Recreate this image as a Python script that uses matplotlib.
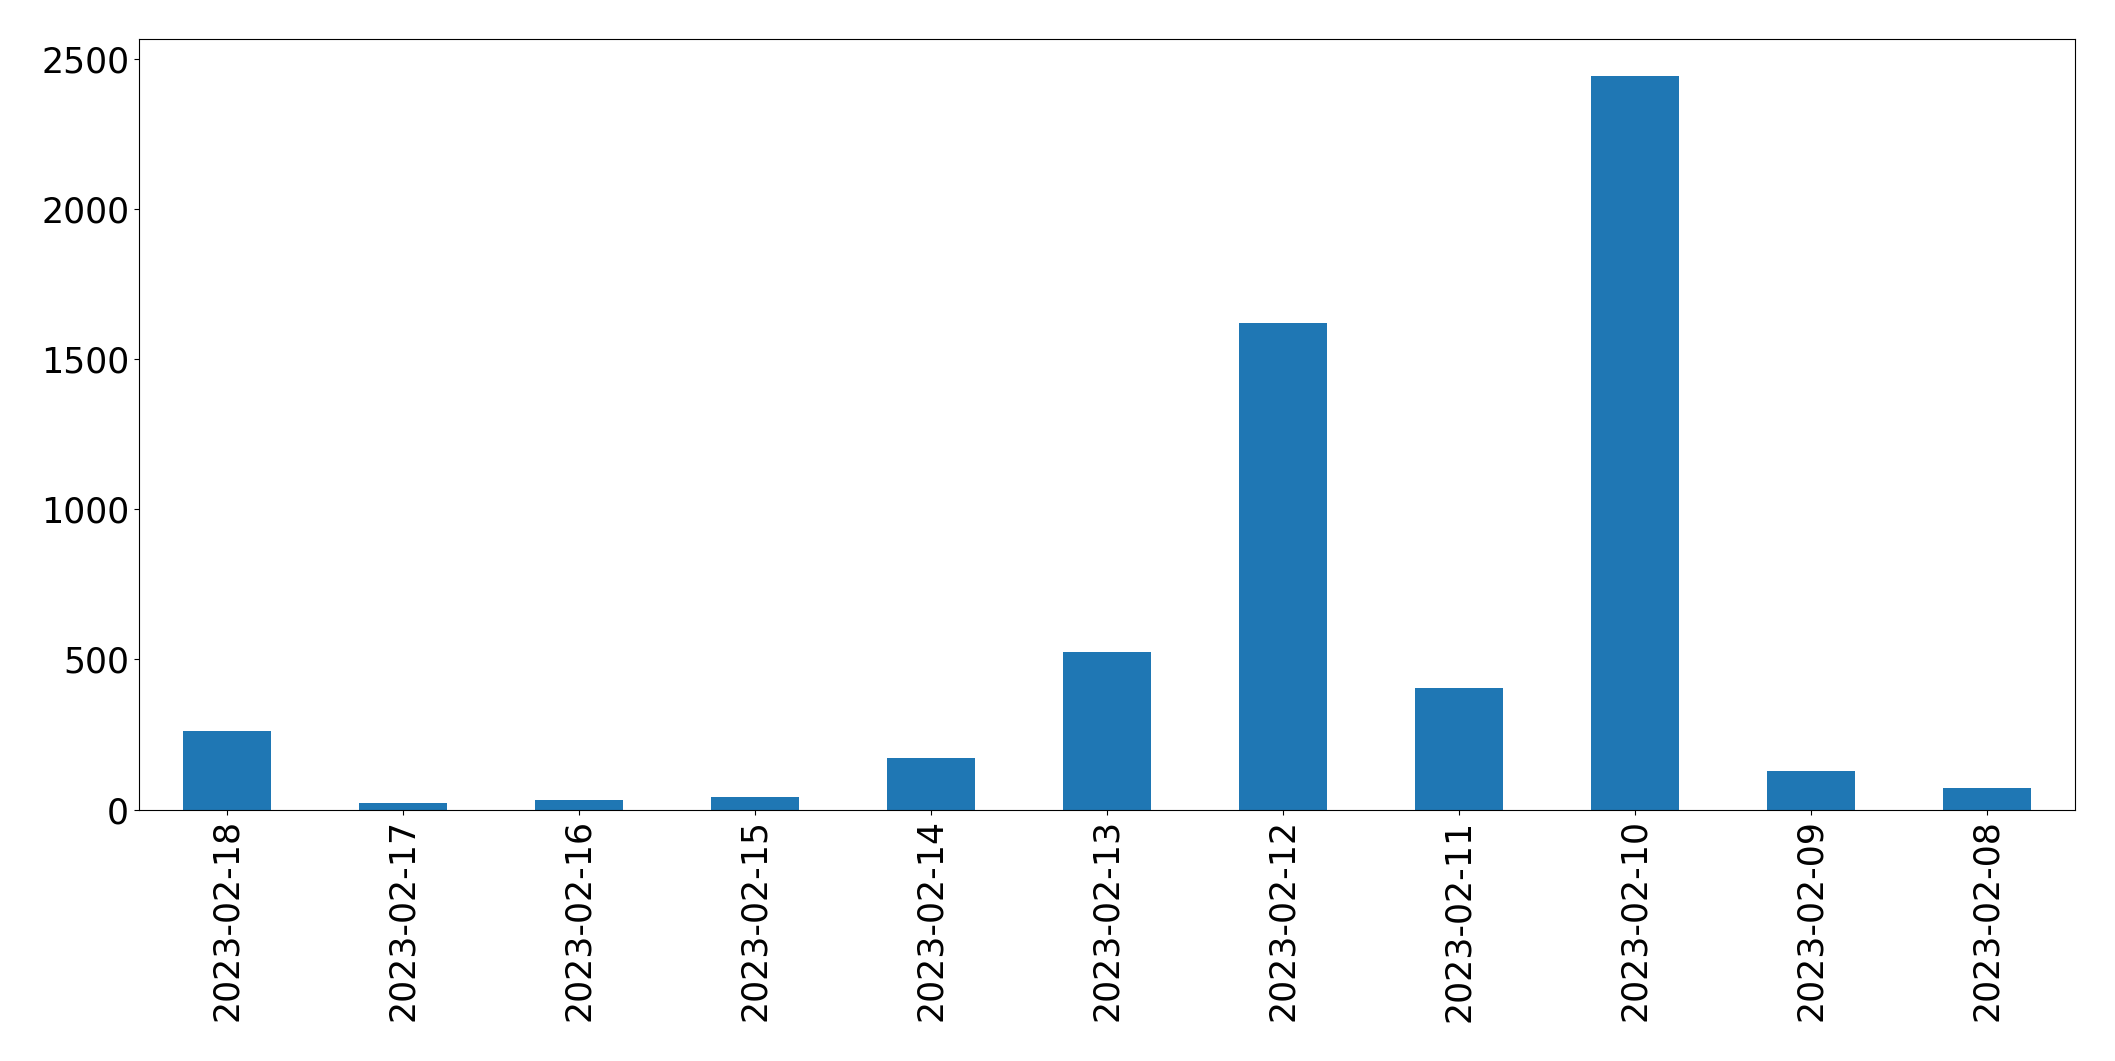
import pandas as pd
import matplotlib
matplotlib.use('Agg')
import matplotlib.pyplot as plt

# 每天的数量
dates = ['2023-02-18', '2023-02-17', '2023-02-16', '2023-02-15', '2023-02-14', '2023-02-13',
         '2023-02-12', '2023-02-11', '2023-02-10', '2023-02-09', '2023-02-08']
counts = [263, 23, 33, 43, 173, 524, 1619, 403, 2442, 127, 73]

s = pd.Series(counts, index=dates)

plt.rcParams['font.size'] = 25
fig = plt.figure(figsize=(21.15, 10.61), dpi=100)
ax = fig.add_subplot(111)
s.plot(kind='bar', ax=ax, color='#1f77b4')
ax.tick_params(axis='both', labelsize=25)
fig.subplots_adjust(left=0.0657, right=0.981, top=0.963, bottom=0.237)

plt.savefig('out.png', dpi=100)
